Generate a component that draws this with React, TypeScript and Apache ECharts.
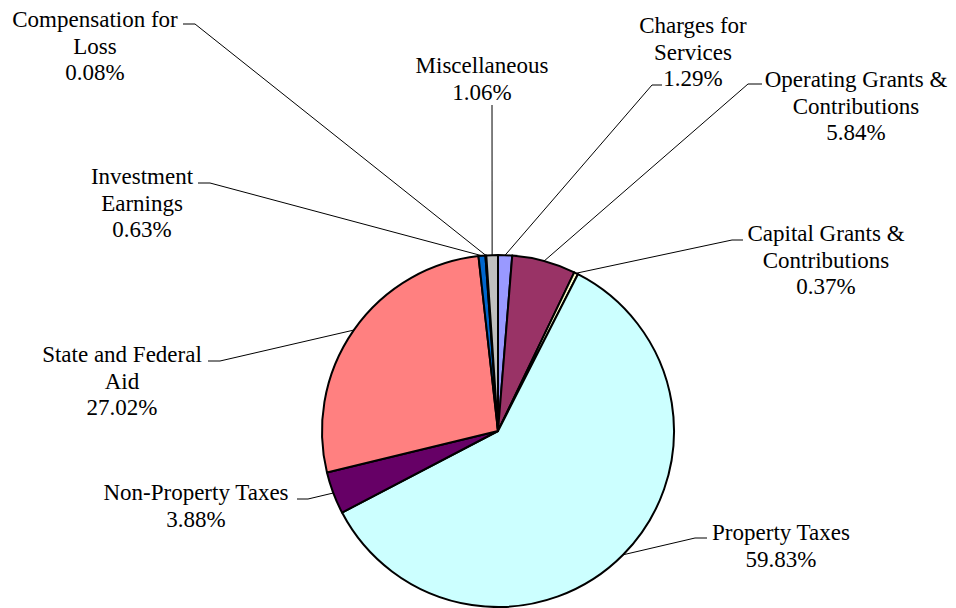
import React, { useEffect, useRef } from "react";
import * as echarts from "echarts";

const categories = [
  "Charges for\nServices",
  "Operating Grants &\nContributions",
  "Capital Grants &\nContributions",
  "Property Taxes",
  "Non-Property Taxes",
  "State and Federal\nAid",
  "Investment\nEarnings",
  "Compensation for\nLoss",
  "Miscellaneous",
];
const percents = [1.29, 5.84, 0.37, 59.83, 3.88, 27.02, 0.63, 0.08, 1.06];
const colors = [
  "#9999FF",
  "#993366",
  "#FFFFCC",
  "#CCFFFF",
  "#660066",
  "#FF8080",
  "#0066CC",
  "#CCCCFF",
  "#C0C0C0",
];

// layout: label block centres, leader-line ends, elbow lengths
const labelCenters = [
  [693, 52],
  [856, 106],
  [826, 260],
  [781, 546],
  [196, 506],
  [122, 381],
  [142, 203],
  [95, 46],
  [482, 79],
];
const lineEnds = [
  [662, 85],
  [762, 84],
  [743, 240],
  [707, 538],
  [297, 499],
  [208, 361],
  [198, 183],
  [183, 24],
  [492, 105],
];
const elbowLen = [10, 14, 11, 12, 11, 12, 12, 12, 0];

export default function App() {
  const ref = useRef<HTMLDivElement>(null);
  useEffect(() => {
    if (!ref.current) return;
    const chart = echarts.init(ref.current, null, { renderer: "svg" });
    const data = categories.map((name, i) => ({
      name,
      value: percents[i],
      itemStyle: { color: colors[i] },
    }));
    chart.setOption({
      animation: false,
      backgroundColor: "#ffffff",
      textStyle: { fontFamily: "Liberation Serif" },
      series: [
        {
          type: "pie",
          center: [498, 431],
          radius: 176,
          startAngle: 90,
          clockwise: true,
          avoidLabelOverlap: false,
          silent: true,
          data,
          itemStyle: { borderColor: "#000", borderWidth: 2 },
          label: {
            show: true,
            position: "outside",
            formatter: (p: any) => `${p.name}\n${Number(p.value).toFixed(2)}%`,
            fontFamily: "Liberation Serif",
            fontSize: 23,
            lineHeight: 26.5,
            color: "#000",
            align: "center",
          },
          labelLine: {
            show: true,
            length: 10,
            length2: 10,
            lineStyle: { color: "#000", width: 1 },
          },
          labelLayout: (params: any) => {
            const i = params.dataIndex;
            const [tx, ty] = labelCenters[i];
            const [ex, ey] = lineEnds[i];
            const start =
              params.labelLinePoints && params.labelLinePoints[0]
                ? params.labelLinePoints[0]
                : [ex, ey];
            const dir = Math.sign(start[0] - ex);
            const mid =
              elbowLen[i] > 0
                ? [ex + dir * elbowLen[i], ey]
                : [(start[0] + ex) / 2, (start[1] + ey) / 2];
            return {
              x: tx,
              y: ty,
              align: "center",
              verticalAlign: "middle",
              labelLinePoints: [start, mid, [ex, ey]],
            };
          },
        },
      ],
    });
    return () => chart.dispose();
  }, []);
  return (
    <div
      ref={ref}
      style={{ position: "absolute", left: 0, top: 0, width: 956, height: 608 }}
    />
  );
}
